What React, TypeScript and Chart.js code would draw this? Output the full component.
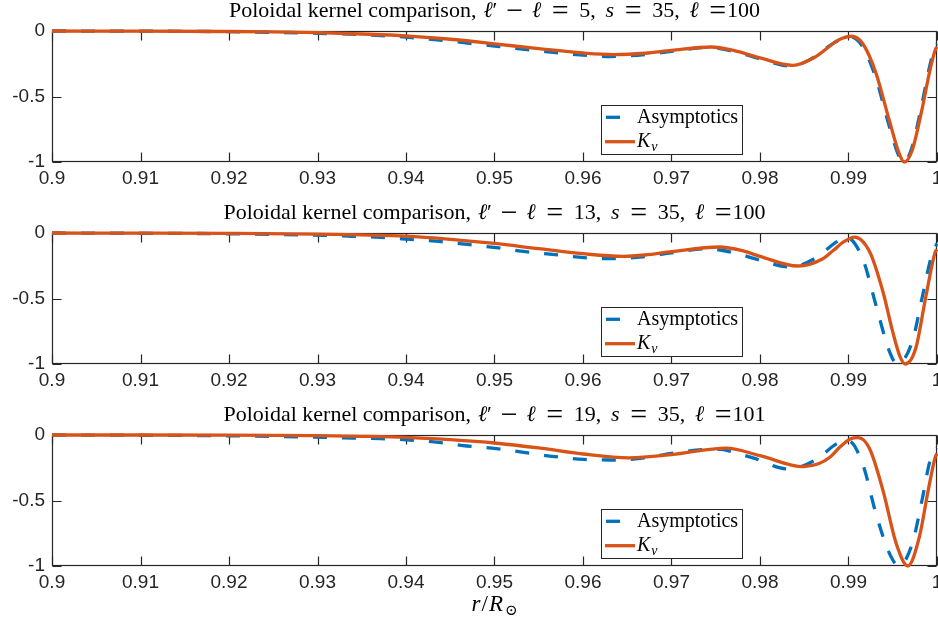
import { useEffect, useRef } from "react";
import { Chart, registerables } from "chart.js";

Chart.register(...registerables);

// Axis ticks
const xTickValues = [0.9, 0.91, 0.92, 0.93, 0.94, 0.95, 0.96, 0.97, 0.98, 0.99, 1.0];
const xTickLabels = ["0.9", "0.91", "0.92", "0.93", "0.94", "0.95", "0.96", "0.97", "0.98", "0.99", "1"];
const yTickValues = [-1, -0.5, 0];
const yTickLabels = ["-1", "-0.5", "0"];

// Mode parameters shown in each panel title
const degreeDiffs = [5, 13, 19];
const harmonicS = [35, 35, 35];
const degreeL = [100, 100, 101];

const asymLabel = "Asymptotics";

// Panel 1: l' - l = 5
const p1KvR = [0.9, 0.91, 0.92, 0.925, 0.93, 0.935, 0.94, 0.945, 0.95, 0.955, 0.96, 0.9635, 0.967, 0.97, 0.9745, 0.977, 0.98, 0.9837, 0.9863, 0.9878, 0.9886, 0.9893, 0.9903, 0.9916, 0.9931, 0.9946, 0.9957, 0.9963, 0.9972, 0.9983, 0.9992, 0.9998, 1.0];
const p1KvV = [0, -0.001, -0.004, -0.007, -0.013, -0.023, -0.037, -0.063, -0.098, -0.135, -0.168, -0.18, -0.17, -0.148, -0.122, -0.148, -0.205, -0.262, -0.196, -0.12, -0.08, -0.055, -0.04, -0.095, -0.32, -0.68, -0.93, -1.0, -0.91, -0.6, -0.3, -0.145, -0.12];
const p1AsR = [0.9, 0.91, 0.92, 0.925, 0.93, 0.935, 0.94, 0.945, 0.95, 0.955, 0.96, 0.963, 0.967, 0.97, 0.9742, 0.977, 0.98, 0.9835, 0.9861, 0.9876, 0.9885, 0.9892, 0.9901, 0.9914, 0.993, 0.9945, 0.9956, 0.9962, 0.9971, 0.9982, 0.9991, 0.9997, 1.0];
const p1AsV = [0, -0.001, -0.005, -0.01, -0.017, -0.028, -0.047, -0.078, -0.115, -0.152, -0.184, -0.195, -0.18, -0.155, -0.125, -0.155, -0.213, -0.268, -0.2, -0.125, -0.085, -0.06, -0.044, -0.1, -0.34, -0.7, -0.94, -1.0, -0.905, -0.59, -0.29, -0.135, -0.1];

// Panel 2: l' - l = 13
const p2KvR = [0.9, 0.91, 0.92, 0.93, 0.935, 0.94, 0.945, 0.95, 0.955, 0.96, 0.9645, 0.967, 0.97, 0.9754, 0.978, 0.98, 0.9843, 0.9871, 0.9883, 0.9894, 0.9907, 0.9924, 0.9939, 0.995, 0.9958, 0.9964, 0.9976, 0.9987, 0.9998, 1.0];
const p2KvV = [0, -0.001, -0.003, -0.008, -0.014, -0.024, -0.048, -0.08, -0.12, -0.158, -0.178, -0.168, -0.142, -0.107, -0.135, -0.178, -0.252, -0.196, -0.132, -0.07, -0.031, -0.145, -0.45, -0.755, -0.94, -1.0, -0.88, -0.5, -0.145, -0.125];
const p2AsR = [0.9, 0.91, 0.92, 0.9306, 0.9339, 0.9371, 0.9404, 0.9437, 0.9469, 0.9502, 0.9535, 0.9568, 0.9601, 0.9634, 0.967, 0.97, 0.974, 0.977, 0.98, 0.9834, 0.9863, 0.9886, 0.9897, 0.9916, 0.9931, 0.9946, 0.9955, 0.9972, 0.9983, 0.9994, 1.0];
const p2AsV = [0, -0.002, -0.006, -0.018, -0.025, -0.033, -0.048, -0.064, -0.087, -0.112, -0.142, -0.165, -0.188, -0.196, -0.18, -0.152, -0.12, -0.15, -0.208, -0.26, -0.19, -0.07, -0.031, -0.196, -0.55, -0.9, -1.0, -0.83, -0.5, -0.17, -0.08];

// Panel 3: l' - l = 19
const p3KvR = [0.9, 0.91, 0.92, 0.93, 0.935, 0.94, 0.945, 0.95, 0.955, 0.96, 0.9652, 0.97, 0.9762, 0.98, 0.9849, 0.9866, 0.9879, 0.989, 0.9902, 0.9911, 0.9924, 0.9939, 0.9954, 0.9967, 0.998, 0.999, 0.9998, 1.0];
const p3KvV = [0, 0, -0.001, -0.005, -0.01, -0.018, -0.036, -0.061, -0.099, -0.145, -0.174, -0.15, -0.1, -0.158, -0.242, -0.22, -0.17, -0.094, -0.03, -0.02, -0.107, -0.425, -0.83, -1.0, -0.78, -0.425, -0.17, -0.14];
const p3AsR = [0.9, 0.91, 0.92, 0.925, 0.9306, 0.9339, 0.9371, 0.9404, 0.9437, 0.9469, 0.9502, 0.9535, 0.9568, 0.9601, 0.9634, 0.967, 0.97, 0.975, 0.9792, 0.9832, 0.9863, 0.9886, 0.9899, 0.9916, 0.9931, 0.9946, 0.9957, 0.9972, 0.9983, 0.9992, 0.9998, 1.0];
const p3AsV = [0, -0.002, -0.006, -0.011, -0.018, -0.023, -0.028, -0.038, -0.056, -0.084, -0.104, -0.135, -0.165, -0.186, -0.191, -0.175, -0.14, -0.108, -0.175, -0.26, -0.19, -0.07, -0.04, -0.22, -0.6, -0.9, -1.0, -0.83, -0.5, -0.2, -0.12, -0.1];

const panels = [
  { kvR: p1KvR, kvV: p1KvV, asR: p1AsR, asV: p1AsV },
  { kvR: p2KvR, kvV: p2KvV, asR: p2AsR, asV: p2AsV },
  { kvR: p3KvR, kvV: p3KvV, asR: p3AsR, asV: p3AsV },
];

const BLUE = "#0072BD";
const ORANGE = "#D95319";
const AXIS = "#262626";
const SANS = "'Liberation Sans', Arial, sans-serif";
const SERIF = "'Liberation Serif', 'DejaVu Serif', serif";
const TICK_LEN = 9;

type Seg = { t: string; it?: boolean; size?: number; dy?: number; pre?: number; post?: number };

function segFont(s: Seg, base: number) {
  return `${s.it ? "italic " : ""}${s.size ?? base}px ${SERIF}`;
}

// Draws a run of mixed roman/italic text segments on one baseline.
function drawRich(ctx: CanvasRenderingContext2D, segs: Seg[], x: number, y: number, base: number, align: "left" | "center") {
  ctx.save();
  ctx.textBaseline = "alphabetic";
  ctx.textAlign = "left";
  ctx.fillStyle = "#000000";
  const widths = segs.map((s) => {
    ctx.font = segFont(s, base);
    return ctx.measureText(s.t).width;
  });
  let total = 0;
  segs.forEach((s, i) => {
    total += (s.pre ?? 0) * base + widths[i] + (s.post ?? 0) * base;
  });
  let cx = align === "center" ? x - total / 2 : x;
  segs.forEach((s, i) => {
    cx += (s.pre ?? 0) * base;
    ctx.font = segFont(s, base);
    ctx.fillText(s.t, cx, y + (s.dy ?? 0));
    cx += widths[i] + (s.post ?? 0) * base;
  });
  ctx.restore();
}

// Math operators are set a little larger so they read like display math
const op = (t: string, pre: number, post: number): Seg => ({ t, size: 30, dy: 2.5, pre, post });

function titleSegs(i: number): Seg[] {
  return [
    { t: "Poloidal kernel comparison," },
    { t: "ℓ", it: true, pre: 0.32 },
    { t: "′" },
    op("−", 0.4, 0.4),
    { t: "ℓ", it: true },
    op("=", 0.48, 0.48),
    { t: `${degreeDiffs[i]},` },
    { t: "s", it: true, pre: 0.45 },
    op("=", 0.48, 0.48),
    { t: `${harmonicS[i]},` },
    { t: "ℓ", it: true, pre: 0.45 },
    op("=", 0.48, 0.04),
    { t: `${degreeL[i]}` },
  ];
}

// Box, inward tick marks on all four sides (drawn beneath the curves)
const framePlugin = {
  id: "frame",
  beforeDatasetsDraw(chart: any) {
    const { ctx, chartArea: a } = chart;
    const xs = chart.scales.x;
    const ys = chart.scales.y;
    const L = Math.round(a.left) + 0.5;
    const R = Math.round(a.right) - 0.5;
    const T = Math.round(a.top) + 0.5;
    const B = Math.round(a.bottom) - 0.5;
    ctx.save();
    ctx.strokeStyle = AXIS;
    ctx.lineWidth = 1.2;
    ctx.strokeRect(L, T, R - L, B - T);
    ctx.beginPath();
    xTickValues.forEach((v) => {
      const px = Math.round(xs.getPixelForValue(v)) + 0.5;
      ctx.moveTo(px, B);
      ctx.lineTo(px, B - TICK_LEN);
      ctx.moveTo(px, T);
      ctx.lineTo(px, T + TICK_LEN);
    });
    yTickValues.forEach((v) => {
      const py = Math.round(ys.getPixelForValue(v)) + 0.5;
      ctx.moveTo(L, py);
      ctx.lineTo(L + TICK_LEN, py);
      ctx.moveTo(R, py);
      ctx.lineTo(R - TICK_LEN, py);
    });
    ctx.stroke();
    ctx.restore();
  },
};

function titlePlugin(idx: number) {
  return {
    id: "panelTitle",
    afterDraw(chart: any) {
      const a = chart.chartArea;
      drawRich(chart.ctx, titleSegs(idx), (a.left + a.right) / 2, a.top - 14, 22, "center");
    },
  };
}

const legendPlugin = {
  id: "boxLegend",
  afterDraw(chart: any) {
    const { ctx, chartArea: a } = chart;
    const left = 601.5;
    const width = 141;
    const top = Math.round(a.top + 74) + 0.5;
    const height = 49;
    ctx.save();
    ctx.fillStyle = "#ffffff";
    ctx.fillRect(left, top, width, height);
    ctx.strokeStyle = AXIS;
    ctx.lineWidth = 1;
    ctx.strokeRect(left, top, width, height);

    const y1 = a.top + 86.3;
    const y2 = a.top + 110.7;
    ctx.lineWidth = 3.3;
    ctx.strokeStyle = BLUE;
    ctx.setLineDash([14, 15]);
    ctx.beginPath();
    ctx.moveTo(606, y1);
    ctx.lineTo(634, y1);
    ctx.stroke();
    ctx.setLineDash([]);
    ctx.strokeStyle = ORANGE;
    ctx.beginPath();
    ctx.moveTo(605, y2);
    ctx.lineTo(635, y2);
    ctx.stroke();
    ctx.restore();

    drawRich(ctx, [{ t: asymLabel }], 637, a.top + 91.5, 20, "left");
    drawRich(ctx, [{ t: "K", it: true }, { t: "v", it: true, size: 14, dy: 4, pre: 0.05 }], 637, a.top + 115.5, 20, "left");
  },
};

const xLabelPlugin = {
  id: "xAxisLabel",
  afterDraw(chart: any) {
    const a = chart.chartArea;
    drawRich(
      chart.ctx,
      [{ t: "r", it: true }, { t: "/", pre: 0.05 }, { t: "R", it: true, pre: 0.05 }, { t: "⊙", size: 15, dy: 4, pre: 0.08 }],
      (a.left + a.right) / 2,
      a.bottom + 45,
      23,
      "center"
    );
  },
};

function makeChart(canvas: HTMLCanvasElement, idx: number) {
  const p = panels[idx];
  const isLast = idx === panels.length - 1;
  return new Chart(canvas, {
    type: "line",
    data: {
      datasets: [
        {
          label: "K_v",
          data: p.kvR.map((r, k) => ({ x: r, y: p.kvV[k] })),
          borderColor: ORANGE,
          borderWidth: 3.3,
          pointRadius: 0,
          cubicInterpolationMode: "monotone",
          fill: false,
          order: 0,
          clip: 6,
        },
        {
          label: asymLabel,
          data: p.asR.map((r, k) => ({ x: r, y: p.asV[k] })),
          borderColor: BLUE,
          borderWidth: 3.3,
          borderDash: [14, 15],
          pointRadius: 0,
          cubicInterpolationMode: "monotone",
          fill: false,
          order: 1,
          clip: 6,
        },
      ],
    },
    options: {
      responsive: false,
      animation: false,
      devicePixelRatio: 1,
      events: [],
      layout: {
        autoPadding: false,
        padding: { top: 31, left: 0, right: 1, bottom: isLast ? 17 : 0 },
      },
      plugins: {
        legend: { display: false },
        tooltip: { enabled: false },
        title: { display: false },
      },
      scales: {
        x: {
          type: "linear",
          min: 0.9,
          max: 1.0,
          afterBuildTicks: (ax: any) => {
            ax.ticks = xTickValues.map((v) => ({ value: v }));
          },
          afterFit: (ax: any) => {
            ax.height = 40;
            ax.paddingLeft = 0;
            ax.paddingRight = 0;
          },
          grid: { display: false, drawTicks: false },
          border: { display: false },
          ticks: {
            autoSkip: false,
            maxRotation: 0,
            padding: 5,
            color: AXIS,
            font: { family: SANS, size: 19 },
            callback: (_v: any, i: number) => xTickLabels[i],
          },
        },
        y: {
          type: "linear",
          min: -1,
          max: 0,
          afterBuildTicks: (ax: any) => {
            ax.ticks = yTickValues.map((v) => ({ value: v }));
          },
          afterFit: (ax: any) => {
            ax.width = 52;
            ax.paddingTop = 0;
            ax.paddingBottom = 0;
          },
          grid: { display: false, drawTicks: false },
          border: { display: false },
          ticks: {
            autoSkip: false,
            padding: 7,
            color: AXIS,
            font: { family: SANS, size: 19 },
            callback: (_v: any, i: number) => yTickLabels[i],
          },
        },
      },
    } as any,
    plugins: [framePlugin, titlePlugin(idx), legendPlugin, ...(isLast ? [xLabelPlugin] : [])],
  });
}

function Panel({ idx, top, height }: { idx: number; top: number; height: number }) {
  const ref = useRef<HTMLCanvasElement>(null);
  useEffect(() => {
    const chart = makeChart(ref.current as HTMLCanvasElement, idx);
    return () => chart.destroy();
  }, [idx]);
  return (
    <canvas
      ref={ref}
      width={938}
      height={height}
      style={{ position: "absolute", left: 0, top, width: 938, height, display: "block" }}
    />
  );
}

export default function App() {
  return (
    <div style={{ position: "absolute", left: 0, top: 0, width: 938, height: 623, background: "#ffffff", overflow: "hidden" }}>
      <Panel idx={0} top={0} height={202} />
      <Panel idx={1} top={202} height={202} />
      <Panel idx={2} top={404} height={219} />
    </div>
  );
}
